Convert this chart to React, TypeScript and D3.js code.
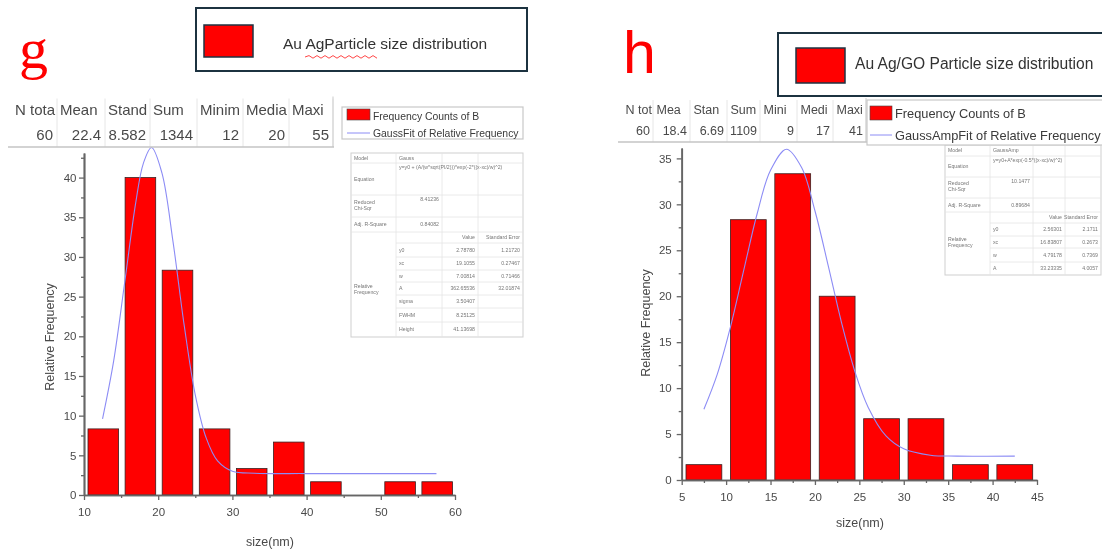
import React, { useRef, useEffect } from "react";
import * as d3 from "d3";

// ---- panel g (Au Ag) ----
const gBinStart = [10, 15, 20, 25, 30, 35, 40, 45, 50, 55];
const gFreq = [8.33, 40, 28.33, 8.33, 3.33, 6.67, 1.67, 0, 1.67, 1.67];
const gFitX = [12.5, 14, 15.5, 17, 18, 19.1, 20.5, 22, 23.5, 25, 26.5, 28, 30, 33, 40, 57.5];
const gFitY = [9.6, 16.9, 26.9, 37.0, 41.8, 43.8, 40.6, 31.9, 21.4, 12.6, 7.1, 4.3, 3.0, 2.75, 2.7, 2.7];
const gStatHeads = ["N tota", "Mean", "Stand", "Sum", "Minim", "Media", "Maxi"];
const gStatVals = ["60", "22.4", "8.582", "1344", "12", "20", "55"];
const gFitRows = [
  ["Model", "Gauss", "", ""],
  ["Equation", "y=y0 + (A/(w*sqrt(PI/2)))*exp(-2*((x-xc)/w)^2)", "", ""],
  ["Reduced Chi-Sqr", "8.41236", "", ""],
  ["Adj. R-Square", "0.84082", "", ""],
  ["", "", "Value", "Standard Error"],
  ["", "y0", "2.78780", "1.21720"],
  ["", "xc", "19.1055", "0.27467"],
  ["", "w", "7.00814", "0.71466"],
  ["Relative Frequency", "A", "362.65536", "32.01874"],
  ["", "sigma", "3.50407", ""],
  ["", "FWHM", "8.25125", ""],
  ["", "Height", "41.13698", ""],
];

// ---- panel h (Au Ag/GO) ----
const hBinStart = [5, 10, 15, 20, 25, 30, 35, 40];
const hFreq = [1.67, 28.33, 33.33, 20, 6.67, 6.67, 1.67, 1.67];
const hFitX = [7.5, 9, 10.5, 12, 13.5, 15, 16.8, 18.5, 20, 21.5, 23, 24.5, 26, 28, 30, 33, 36, 42.5];
const hFitY = [7.7, 11.5, 16.7, 22.9, 29.0, 33.7, 36.0, 34.0, 29.3, 23.3, 17.1, 11.8, 7.9, 4.8, 3.4, 2.7, 2.6, 2.6];
const hStatHeads = ["N tot", "Mea", "Stan", "Sum", "Mini", "Medi", "Maxi"];
const hStatVals = ["60", "18.4", "6.69", "1109", "9", "17", "41"];
const hFitRows = [
  ["Model", "GaussAmp", "", ""],
  ["Equation", "y=y0+A*exp(-0.5*((x-xc)/w)^2)", "", ""],
  ["Reduced Chi-Sqr", "10.1477", "", ""],
  ["Adj. R-Square", "0.89684", "", ""],
  ["", "", "Value", "Standard Error"],
  ["", "y0", "2.56301", "2.1711"],
  ["Relative Frequency", "xc", "16.83807", "0.2673"],
  ["", "w", "4.79178", "0.7369"],
  ["", "A", "33.23335", "4.0057"],
];

const FONT = "'Liberation Sans', Arial, sans-serif";
const TXT = "#4a4a4a";

type Panel = {
  bins: number[]; freq: number[]; fitX: number[]; fitY: number[];
  xDomain: [number, number]; yDomain: [number, number];
  xRange: [number, number]; yRange: [number, number];
  xMajor: number[]; xMinor: number[]; yMajor: number[]; yMinor: number[];
  padL: number; padR: number; yPad: number; xPad: number;
  yLabel: [number, number]; xLabel: [number, number];
};

function drawPanel(g: any, p: Panel) {
  const x = d3.scaleLinear().domain(p.xDomain).range(p.xRange);
  const y = d3.scaleLinear().domain(p.yDomain).range(p.yRange);
  const bars = p.bins.map((b, i) => ({ b, v: p.freq[i] })).filter((d) => d.v > 0);

  g.append("g")
    .selectAll("rect")
    .data(bars)
    .join("rect")
    .attr("x", (d) => x(d.b) + p.padL)
    .attr("y", (d) => y(d.v))
    .attr("width", (d) => x(d.b + 5) - x(d.b) - p.padL - p.padR)
    .attr("height", (d) => y(0) - y(d.v))
    .attr("fill", "#ff0000")
    .attr("stroke", "#3a2020")
    .attr("stroke-width", 0.8);

  const line = d3
    .line<number>()
    .x((d, i) => x(p.fitX[i]))
    .y((d) => y(d))
    .curve(d3.curveCatmullRom.alpha(0.5));
  g.append("path")
    .attr("d", line(p.fitY))
    .attr("fill", "none")
    .attr("stroke", "#8c8cf5")
    .attr("stroke-width", 1.1);

  const styleAxis = (ax: any) => {
    ax.select(".domain").attr("stroke", "#666").attr("stroke-width", 1.7);
    ax.selectAll(".tick line").attr("stroke", "#666").attr("stroke-width", 1.3);
    ax.selectAll("text").attr("fill", TXT).attr("font-family", FONT).attr("font-size", 11.5);
  };

  const xAxis = g.append("g").attr("transform", `translate(0,${p.yRange[0]})`);
  xAxis.call(d3.axisBottom(x).tickValues(p.xMinor).tickSize(3).tickSizeOuter(0).tickFormat(() => ""));
  styleAxis(xAxis);
  const xAxis2 = g.append("g").attr("transform", `translate(0,${p.yRange[0]})`);
  xAxis2.call(d3.axisBottom(x).tickValues(p.xMajor).tickSize(5).tickSizeOuter(0).tickPadding(p.xPad).tickFormat(d3.format("d")));
  styleAxis(xAxis2);

  const yAxis = g.append("g").attr("transform", `translate(${p.xRange[0]},0)`);
  yAxis.call(d3.axisLeft(y).tickValues(p.yMinor).tickSize(3).tickSizeOuter(0).tickFormat(() => ""));
  styleAxis(yAxis);
  const yAxis2 = g.append("g").attr("transform", `translate(${p.xRange[0]},0)`);
  yAxis2.call(d3.axisLeft(y).tickValues(p.yMajor).tickSize(5).tickSizeOuter(0).tickPadding(p.yPad).tickFormat(d3.format("d")));
  styleAxis(yAxis2);

  g.append("text")
    .attr("transform", `translate(${p.yLabel[0]},${p.yLabel[1]}) rotate(-90)`)
    .attr("text-anchor", "middle")
    .attr("font-family", FONT)
    .attr("font-size", 12.5)
    .attr("fill", TXT)
    .text("Relative Frequency");
  g.append("text")
    .attr("x", p.xLabel[0])
    .attr("y", p.xLabel[1])
    .attr("text-anchor", "middle")
    .attr("font-family", FONT)
    .attr("font-size", 12.5)
    .attr("fill", TXT)
    .text("size(nm)");
}

function drawStats(g: any, heads: string[], vals: string[], edges: number[], hy: number, vy: number, bottom: number, fs: number, hPad: number, vPad: number) {
  const t = g.append("g");
  const x0 = edges[0] - 4;
  const x1 = edges[edges.length - 1];
  t.append("rect").attr("x", x0).attr("y", hy - fs - 2).attr("width", x1 - x0).attr("height", bottom - hy + fs + 2).attr("fill", "#fff");
  edges.slice(1).forEach((e) => {
    t.append("line").attr("x1", e).attr("x2", e).attr("y1", hy - fs - 1).attr("y2", bottom).attr("stroke", "#e6e6e6");
  });
  t.append("line").attr("x1", x1).attr("x2", x1).attr("y1", hy - fs - 3).attr("y2", bottom).attr("stroke", "#d4d4d4").attr("stroke-width", 1.2);
  t.append("line").attr("x1", x0).attr("x2", x1 + 1).attr("y1", bottom).attr("y2", bottom).attr("stroke", "#c4c4c4").attr("stroke-width", 1.5);
  heads.forEach((h, i) => {
    t.append("text").attr("x", edges[i] + hPad).attr("y", hy).attr("font-family", FONT).attr("font-size", fs).attr("fill", TXT).text(h);
    t.append("text").attr("x", edges[i + 1] - vPad).attr("y", vy).attr("text-anchor", "end").attr("font-family", FONT).attr("font-size", fs).attr("fill", TXT).text(vals[i]);
  });
}

function drawOriginLegend(g: any, x: number, y: number, w: number, h: number, sw: [number, number, number, number], ly: number, tx: number, ty: [number, number], fs: number, fitName: string) {
  const t = g.append("g");
  t.append("rect").attr("x", x).attr("y", y).attr("width", w).attr("height", h).attr("fill", "#fff").attr("stroke", "#c8c8c8").attr("stroke-width", 1.2);
  t.append("rect").attr("x", sw[0]).attr("y", sw[1]).attr("width", sw[2]).attr("height", sw[3]).attr("fill", "#ff0000").attr("stroke", "#444").attr("stroke-width", 0.6);
  t.append("line").attr("x1", sw[0]).attr("x2", sw[0] + sw[2]).attr("y1", ly).attr("y2", ly).attr("stroke", "#8c8cf5").attr("stroke-width", 1);
  t.append("text").attr("x", tx).attr("y", ty[0]).attr("font-family", FONT).attr("font-size", fs).attr("fill", "#3a3a3a").text("Frequency Counts of B");
  t.append("text").attr("x", tx).attr("y", ty[1]).attr("font-family", FONT).attr("font-size", fs).attr("fill", "#3a3a3a").text(fitName);
}

function drawFitTable(g: any, rows: string[][], cols: number[], rowEdges: number[], spanFrom: number) {
  const t = g.append("g");
  const x0 = cols[0], x1 = cols[cols.length - 1];
  t.append("rect").attr("x", x0).attr("y", rowEdges[0]).attr("width", x1 - x0).attr("height", rowEdges[rowEdges.length - 1] - rowEdges[0]).attr("fill", "#fff").attr("stroke", "#cfcfcf").attr("stroke-width", 1);
  rowEdges.slice(1, -1).forEach((ry, i) => {
    const sx = i + 1 > spanFrom ? cols[1] : x0;
    t.append("line").attr("x1", sx).attr("x2", x1).attr("y1", ry).attr("y2", ry).attr("stroke", "#e4e4e4").attr("stroke-width", 0.8);
  });
  cols.slice(1, -1).forEach((cx) => {
    t.append("line").attr("x1", cx).attr("x2", cx).attr("y1", rowEdges[0]).attr("y2", rowEdges[rowEdges.length - 1]).attr("stroke", "#e4e4e4").attr("stroke-width", 0.8);
  });
  const fs = 5.2;
  rows.forEach((r, i) => {
    const top = rowEdges[i], bot = rowEdges[i + 1];
    const cy = (top + bot) / 2 + 1.8;
    r.forEach((c, j) => {
      if (!c) return;
      const right = j >= 2 || (j === 1 && i >= 2 && i <= 3);
      if (j === 0 && (c === "Relative Frequency" || c === "Reduced Chi-Sqr")) {
        const parts = c === "Relative Frequency" ? ["Relative", "Frequency"] : ["Reduced", "Chi-Sqr"];
        const ly = c === "Relative Frequency" ? (top + bot) / 2 : cy - 3;
        parts.forEach((w, k) => {
          t.append("text").attr("x", cols[0] + 3).attr("y", ly - 1 + k * 6).attr("font-family", FONT).attr("font-size", fs).attr("fill", "#777").text(w);
        });
        return;
      }
      const yy = j === 1 && (i === 1 || i === 2) ? top + 6 : cy;
      t.append("text")
        .attr("x", right ? cols[j + 1] - 3 : cols[j] + 3)
        .attr("y", yy)
        .attr("text-anchor", right ? "end" : "start")
        .attr("font-family", FONT)
        .attr("font-size", fs)
        .attr("fill", "#777")
        .text(c);
    });
  });
}

export default function App() {
  const ref = useRef<SVGSVGElement>(null);
  useEffect(() => {
    const svg = d3.select(ref.current);
    svg.selectAll("*").remove();
    svg.append("defs").append("filter").attr("id", "soft").append("feGaussianBlur").attr("stdDeviation", 0.35);
    const root = svg.append("g").attr("filter", "url(#soft)");
    root.append("rect").attr("width", 1102).attr("height", 552).attr("fill", "#fff");

    // ---------- g ----------
    drawPanel(root, {
      bins: gBinStart, freq: gFreq, fitX: gFitX, fitY: gFitY,
      xDomain: [10, 60], yDomain: [0, 43.1], xRange: [84, 455], yRange: [495, 153],
      xMajor: [10, 20, 30, 40, 50, 60], xMinor: [15, 25, 35, 45, 55],
      yMajor: d3.range(0, 41, 5), yMinor: d3.range(2.5, 43, 5),
      padL: 4, padR: 2.5, yPad: 2.5, xPad: 8,
      yLabel: [54, 337], xLabel: [270, 546],
    });
    drawStats(root, gStatHeads, gStatVals, [12, 57, 105, 150, 197, 243, 289, 333], 114.5, 139.5, 147, 15, 3, 4);
    drawOriginLegend(root, 342, 107, 181, 32, [347, 109, 23, 11], 133, 373, [119.8, 136.8], 10.4, "GaussFit of Relative Frequency");
    drawFitTable(root, gFitRows, [351, 396, 442, 478, 523], [153, 163, 195, 217, 232, 243, 257, 270, 282, 295, 308, 322, 337], 4);

    // title box g
    root.append("rect").attr("x", 196).attr("y", 8).attr("width", 331).attr("height", 63).attr("fill", "#fff").attr("stroke", "#1f3340").attr("stroke-width", 2);
    root.append("rect").attr("x", 204).attr("y", 25).attr("width", 49).attr("height", 32).attr("fill", "#ff0000").attr("stroke", "#1f3340").attr("stroke-width", 1.5);
    root.append("text").attr("x", 283).attr("y", 48.5).attr("font-family", FONT).attr("font-size", 15.5).attr("fill", "#333").text("Au AgParticle size distribution");
    const wave = d3.path();
    wave.moveTo(305, 57);
    for (let i = 0; i < 18; i++) wave.lineTo(309 + i * 4, i % 2 === 0 ? 55.6 : 58.2);
    root.append("path").attr("d", wave.toString()).attr("fill", "none").attr("stroke", "#ff3030").attr("stroke-width", 0.9);
    root.append("text").attr("x", 19).attr("y", 68).attr("font-family", "'Liberation Serif', 'Times New Roman', serif").attr("font-size", 58).attr("fill", "#ff0000").text("g");

    // ---------- h ----------
    drawPanel(root, {
      bins: hBinStart, freq: hFreq, fitX: hFitX, fitY: hFitY,
      xDomain: [5, 45], yDomain: [0, 36.13], xRange: [681.7, 1037], yRange: [480, 148],
      xMajor: d3.range(5, 46, 5), xMinor: d3.range(7.5, 45, 5),
      yMajor: d3.range(0, 36, 5), yMinor: d3.range(2.5, 36, 5),
      padL: 4.3, padR: 4.3, yPad: 5, xPad: 8,
      yLabel: [650, 323], xLabel: [860, 527],
    });
    drawStats(root, hStatHeads, hStatVals, [622, 653, 690, 727, 760, 797, 833, 866], 113.5, 134.5, 142, 12.5, 3.5, 3);
    drawFitTable(root, hFitRows, [945, 990, 1033, 1065, 1101], [145, 156, 177, 198, 212, 223, 236, 248, 262, 275], 4);
    drawOriginLegend(root, 867, 100, 250, 45, [870, 106, 22, 14], 135, 895, [117.7, 139.7], 12.8, "GaussAmpFit of Relative Frequency");

    root.append("rect").attr("x", 778).attr("y", 33).attr("width", 340).attr("height", 63).attr("fill", "#fff").attr("stroke", "#1f3340").attr("stroke-width", 2);
    root.append("rect").attr("x", 796).attr("y", 48).attr("width", 49).attr("height", 35).attr("fill", "#ff0000").attr("stroke", "#1f3340").attr("stroke-width", 1.5);
    root.append("text").attr("x", 855).attr("y", 68.5).attr("font-family", FONT).attr("font-size", 15.6).attr("fill", "#333").text("Au Ag/GO Particle size distribution");
    root.append("text").attr("x", 623).attr("y", 73).attr("font-family", FONT).attr("font-size", 59).attr("fill", "#ff0000").text("h");
  }, []);

  return (
    <svg
      ref={ref}
      width={1102}
      height={552}
      style={{ position: "absolute", left: 0, top: 0, background: "#fff" }}
    />
  );
}
